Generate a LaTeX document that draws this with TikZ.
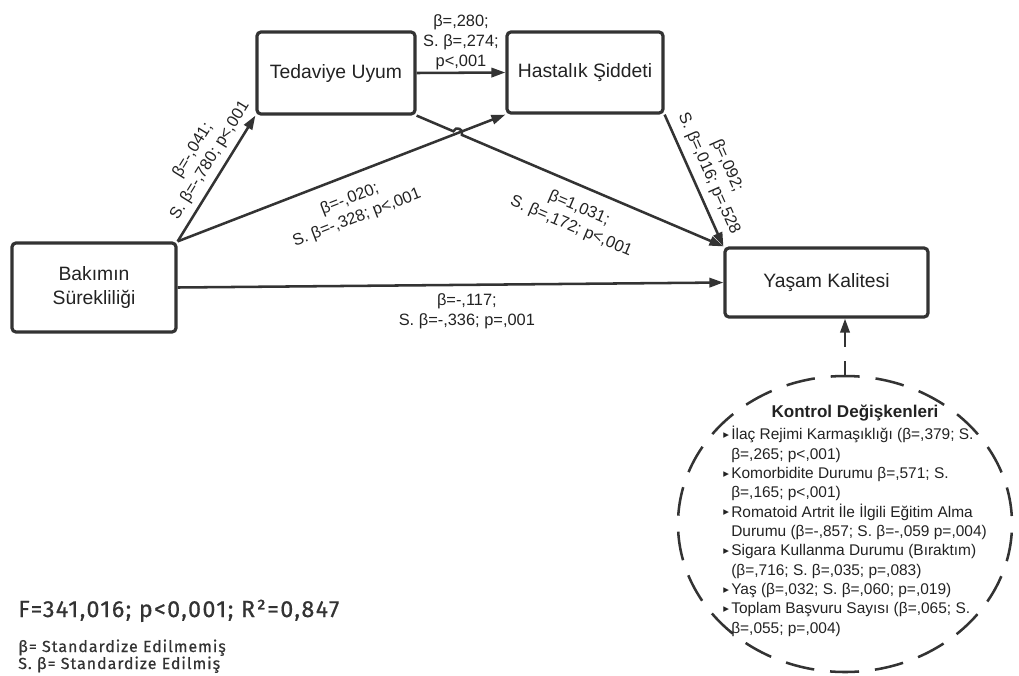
\documentclass[tikz,border=0pt]{standalone}
\usepackage{fontspec}
\setmainfont{Liberation Sans}
\newfontfamily\notefont{Fira Sans}[LetterSpace=6, FakeBold=0.6]
\newfontfamily\symfont{DejaVu Sans}
\usetikzlibrary{arrows.meta,shapes.geometric,calc}
\definecolor{ink}{HTML}{333333}
\definecolor{txt}{HTML}{222222}
% bullet and hanging indent for the control-variable list
\newcommand{\itemmark}{\makebox[6pt][l]{\symfont\fontsize{8.5}{8.5}\selectfont\raisebox{0.2ex}{▸}}}
\newcommand{\itemcont}{\makebox[6pt][l]{}}
\tikzset{
  box/.style={draw=ink, line width=2.4pt, rounded corners=3pt, text=txt,
    font=\fontsize{14.5}{17.5}\selectfont, align=center},
  conn/.style={draw=ink, line width=1.9pt, -{Triangle[length=10.5pt,width=7pt]}},
  lbl/.style={font=\fontsize{12.3}{15}\selectfont, text=txt, align=center, inner sep=1.5pt},
  ctrlshape/.style={ellipse, draw=ink, line width=1.9pt, inner sep=0pt, outer sep=0pt,
    minimum width=250.5pt, minimum height=222pt,
    dash pattern=on 21.75pt off 12pt, dash phase=27.76pt},
}
\begin{document}
\begin{tikzpicture}[x=0.75pt,y=-0.75pt]
\useasboundingbox (0,0) rectangle (1019,675);

% variables
\node[box, minimum width=123pt, minimum height=66.75pt] (bak) at (94,287.5) {Bakımın\\Sürekliliği};
\node[box, minimum width=118.5pt, minimum height=61.5pt] (ted) at (336,73) {Tedaviye Uyum};
\node[box, minimum width=117pt, minimum height=60.75pt] (has) at (585,72.5) {Hastalık Şiddeti};
\node[box, minimum width=152.25pt, minimum height=51.75pt] (yas) at (826.5,282.5) {Yaşam Kalitesi};

% paths with coefficients
\draw[conn] (bak.north east) -- node[lbl, sloped, above=3pt, pos=0.58] {β=-,041;\\S. β=-,780; p<,001} (ted.south west);
\draw[conn] (bak.north east) -- node[lbl, sloped, below=9pt, pos=0.5] {β=-,020;\\S. β=-,328; p<,001} (has.south west);
\draw[conn] (ted.east) -- node[lbl, above] {β=,280;\\S. β=,274;\\p<,001} (has.west);
\draw[conn] (has.south east) -- node[lbl, sloped, above=4pt, pos=0.5] {β=,092;\\S. β=,016; p=,528} (yas.north west);
\draw[conn] (bak.east) -- node[lbl, below=4pt, pos=0.53] {β=-,117;\\S. β=-,336; p=,001} (yas.west);

% line jump where the two diagonals cross
\coordinate (hop) at (intersection of bak.north east--has.south west and ted.south east--yas.north west);
\coordinate (hopa) at ($(hop)!3.5pt!(ted.south east)$);
\coordinate (hopb) at ($(hop)!3.5pt!(yas.north west)$);
\draw[conn] (ted.south east) -- (hopa) to[bend left=90, looseness=1.7] (hopb)
  -- node[lbl, sloped, below=8pt, pos=0.48] {β=1,031;\\S. β=,172; p<,001} (yas.north west);

% control variables
\node[ctrlshape] (ctrl) at (845,524) {};
\coordinate (ctrlin) at (ctrl.north |- yas.south);
\draw[conn, dash pattern=on 11pt off 11pt on 60pt] (ctrl.north) -- (ctrlin);
\node[font=\bfseries\fontsize{12.8}{14}\selectfont, text=txt] (ctitle) at (855,413) {Kontrol Değişkenleri};
\node[anchor=north west, inner sep=0pt, align=left, text=txt,
      font=\fontsize{11.6}{14.5}\selectfont] (clist) at (723,426) {%
\itemmark İlaç Rejimi Karmaşıklığı (β=,379; S.\\
\itemcont β=,265; p<,001)\\
\itemmark Komorbidite Durumu β=,571; S.\\
\itemcont β=,165; p<,001)\\
\itemmark Romatoid Artrit İle İlgili Eğitim Alma\\
\itemcont Durumu (β=-,857; S. β=-,059 p=,004)\\
\itemmark Sigara Kullanma Durumu (Bıraktım)\\
\itemcont (β=,716; S. β=,035; p=,083)\\
\itemmark Yaş (β=,032; S. β=,060; p=,019)\\
\itemmark Toplam Başvuru Sayısı (β=,065; S.\\
\itemcont β=,055; p=,004)};

% model fit and legend
\node[anchor=base west, inner sep=0pt, text=ink, font=\notefont\fontsize{17.5}{19}\selectfont] (fstat) at (18,617) {F=341,016; p<0,001; R²=0,847};
\node[anchor=base west, inner sep=0pt, text=ink, font=\notefont\fontsize{12}{13}\selectfont] (leg1) at (18,652) {β= Standardize Edilmemiş};
\node[anchor=base west, inner sep=0pt, text=ink, font=\notefont\fontsize{12}{13}\selectfont] (leg2) at (18,669) {S. β= Standardize Edilmiş};
\end{tikzpicture}
\end{document}
